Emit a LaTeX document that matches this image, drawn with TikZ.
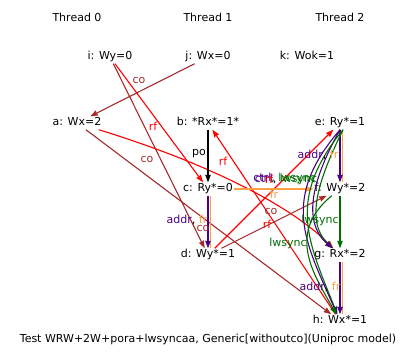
\documentclass[tikz,border=0pt]{standalone}
\usepackage{fontspec}
\setmainfont{DejaVu Sans}
\usepackage{tikz}
\usetikzlibrary{arrows.meta}
\definecolor{cocol}{RGB}{165,42,42}
\definecolor{frcol}{RGB}{255,160,64}
\definecolor{addrcol}{RGB}{75,0,130}
\definecolor{lwcol}{RGB}{0,110,0}

\begin{document}
\begin{tikzpicture}
[x=1pt,y=-1pt,>={Stealth[length=7.5pt,width=5.5pt,inset=0.5pt]},
every node/.style={font=\fontsize{11}{13}\selectfont},
evt/.style={inner xsep=1pt,inner ysep=1.25pt,text height=8pt,text depth=2.5pt},
lbl/.style={inner sep=0pt},
co/.style={->,line width=1.1pt,draw=cocol},
rf/.style={->,line width=1.1pt,draw=red},
fr/.style={->,line width=1.1pt,draw=frcol},
po/.style={->,line width=1.1pt,draw=black},
addr/.style={->,line width=1.1pt,draw=addrcol},
lws/.style={->,line width=1.1pt,draw=lwcol}]
\useasboundingbox (0,0) rectangle (418,361);
% threads
\node (th0) at (77,17) {Thread 0};
\node (th1) at (208,17) {Thread 1};
\node (th2) at (340,17) {Thread 2};
% events
\node[evt] (i) at (110,57) {i: Wy=0};
\node[evt] (j) at (208,57) {j: Wx=0};
\node[evt] (k) at (307,57) {k: Wok=1};
\node[evt] (a) at (77,123) {a: Wx=2};
\node[evt] (b) at (208,123) {b: *Rx*=1*};
\node[evt] (c) at (208,189) {c: Ry*=0};
\node[evt] (d) at (208,255) {d: Wy*=1};
\node[evt] (e) at (340,123) {e: Ry*=1};
\node[evt] (f) at (340,189) {f: Wy*=2};
\node[evt] (g) at (340,255) {g: Rx*=2};
\node[evt] (h) at (340,321) {h: Wx*=1};
\node (cap) at (208,339) {Test WRW+2W+pora+lwsyncaa, Generic[withoutco](Uniproc model)};
% edges
\draw[co] (j) -- (a);
\draw[rf] (i) -- (c);
\draw[co] (i) -- (d);
\draw[co] (a) -- (h);
\draw[rf] (a) .. controls +(130,40) and +(-50,-50) .. (g);
\draw[rf] (h) -- (b);
\draw[rf] (d) -- (e);
\draw[co] (d) -- (f);
\draw[po] (b) -- (c);
\draw[fr,-] ([xshift=2.5pt]c.south) -- ([xshift=2.5pt]d.north);
\draw[addr] (c) -- (d);
\draw[fr] (c) -- (f);
\draw[fr,-] ([xshift=2.5pt]e.south) -- ([xshift=2.5pt]f.north);
\draw[addr] (e) -- (f);
\draw[lws] (f) -- (g);
\draw[fr,-] ([xshift=2.5pt]g.south) -- ([xshift=2.5pt]h.north);
\draw[addr] (g) -- (h);
\draw[lws] ([xshift=3pt]e.south) .. controls +(-22,45) and +(-37,-35) .. (g);
\draw[addr] (e.south) .. controls +(-25,45) and +(-40,-35) .. (g);
\draw[lws] ([xshift=3pt]e.south) .. controls +(-57,70) and +(-32,-80) .. (h);
\draw[addr] (e.south) .. controls +(-60,70) and +(-35,-80) .. (h);
\draw[lws] (f) .. controls +(-55,45) and +(-25,-45) .. (h);
% edge labels
\node[lbl] (l1) at (139,80) {\color{cocol}co};
\node[lbl] (l2) at (153,126) {\color{red}rf};
\node[lbl] (l3) at (147,159) {\color{cocol}co};
\node[lbl] (l4) at (199,154) {po};
\node[lbl] (l5) at (223,161) {\color{red}rf};
\node[lbl] (l6) at (284.5,178.5) {\color{addrcol}ctrl\color{black}, \color{lwcol}lwsync};
\node[lbl] (l7) at (286,179.5) {\color{addrcol}ctrl\color{black}, \color{lwcol}lwsync};
\node[lbl] (l8) at (269,179) {\color{red}rf};
\node[lbl] (l9) at (274,194) {\color{frcol}fr};
\node[lbl] (l10) at (271,211) {\color{cocol}co};
\node[lbl] (l11) at (267,224) {\color{red}rf};
\node[lbl] (l12) at (187,220) {\color{addrcol}addr\color{black}, \color{frcol}fr};
\node[lbl] (l13) at (203,228) {\color{cocol}co};
\node[lbl] (l14) at (318,155) {\color{addrcol}addr\color{black}, \color{frcol}fr};
\node[lbl] (l15) at (320,220) {\color{lwcol}lwsync};
\node[lbl] (l16) at (288,243) {\color{lwcol}lwsync};
\node[lbl] (l17) at (320,287) {\color{addrcol}addr\color{black}, \color{frcol}fr};
\end{tikzpicture}
\end{document}
